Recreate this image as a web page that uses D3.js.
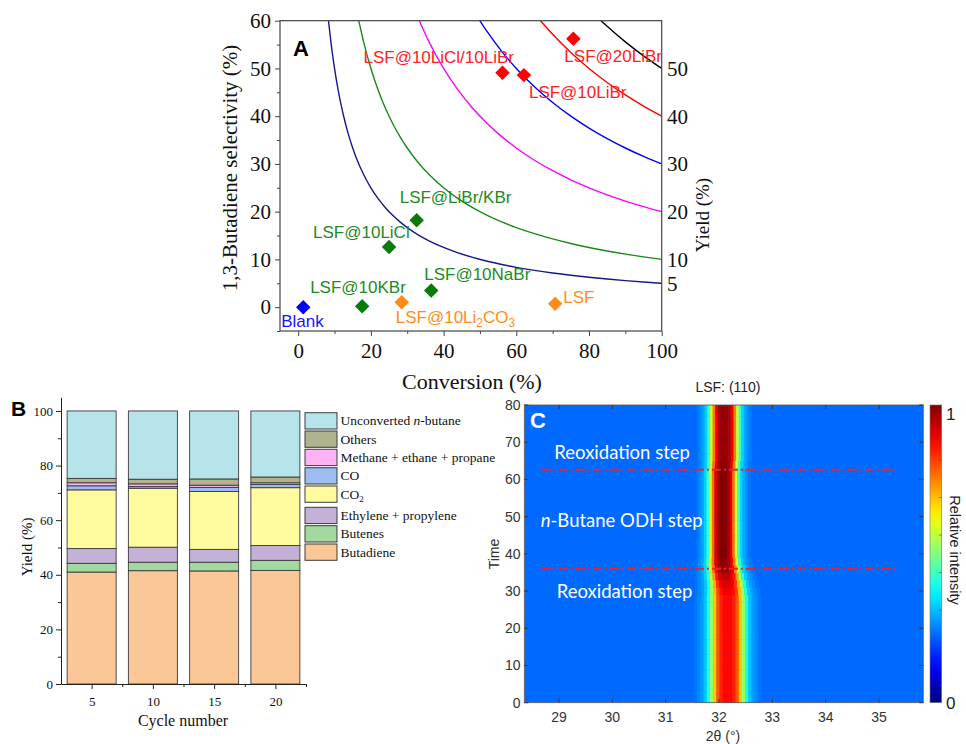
<!DOCTYPE html>
<html><head><meta charset="utf-8">
<script src="https://cdn.jsdelivr.net/npm/d3@7"></script>
<style>body{margin:0;background:#fff} svg{display:block}</style>
</head><body><svg id="fig" width="966" height="744"></svg>
<script>
// ---------------- Panel A data ----------------
const catalystNames = ["Blank","LSF@10KBr","LSF@10Li2CO3","LSF@10NaBr","LSF@10LiCl","LSF@LiBr/KBr","LSF","LSF@10LiCl/10LiBr","LSF@10LiBr","LSF@20LiBr"];
const conversionValues = [1.4, 17.6, 28.5, 36.6, 25.0, 32.6, 70.7, 56.2, 62.1, 75.7];
const selectivityValues = [0.0, 0.2, 1.0, 3.5, 12.6, 18.2, 0.7, 49.1, 48.6, 56.2];
const catalystGroup = ["blank","halide","carbonate","halide","halide","halide","carbonate","lithium","lithium","lithium"];
const isoYieldLevels = [5, 10, 20, 30, 40, 50];
const isoYieldTickLabels = ["5","10","20","30","40","50"];
const conversionSamples = [9,10,11,12,13,14,15,16,18,20,22,24,26,28,30,33,36,40,44,48,52,56,60,65,70,75,80,85,90,95,100];
const selectivityTicks = [0,10,20,30,40,50,60];
const conversionTicks = [0,20,40,60,80,100];

// ---------------- Panel B data ----------------
const cycleNumbers = [5, 10, 15, 20];
const productNames = ["Butadiene","Butenes","Ethylene + propylene","CO2","CO","Methane + ethane + propane","Others","Unconverted n-butane"];
const butadieneYield   = [41.0, 41.5, 41.4, 41.6];
const butenesYield     = [3.2, 3.1, 3.2, 3.7];
const ethyleneYield    = [5.4, 5.5, 4.7, 5.4];
const co2Yield         = [21.5, 21.6, 21.2, 21.2];
const coYield          = [1.5, 0.6, 1.5, 1.2];
const lightAlkaneYield = [1.1, 1.0, 0.8, 0.6];
const othersYield      = [1.6, 1.7, 2.3, 2.1];
const unconvertedYield = [24.7, 25.0, 24.9, 24.2];
const yieldTicks = [0,20,40,60,80,100];

// ---------------- Panel C data ----------------
const thetaTicks = [29,30,31,32,33,34,35];
const timeTicks = [0,10,20,30,40,50,60,70,80];
const rowTime = [0,2,4,6,8,10,12,14,16,18,20,22,24,26,28,30,32,34,36,38,40,42,44,46,48,50,52,54,56,58,60,62,64,66,68,70,72,74,76,78,80];
const rowCenter = [32.16,32.16,32.16,32.16,32.16,32.16,32.16,32.16,32.16,32.16,32.16,32.16,32.16,32.16,32.16,
  32.155,32.14,32.12,32.10,32.085,
  32.08,32.08,32.08,32.08,32.08,32.08,32.08,32.08,32.08,32.08,32.08,32.08,
  32.09,
  32.10,32.10,32.10,32.10,32.10,32.10,32.10,32.10];
const rowHalfWidth = [0.30,0.30,0.30,0.30,0.30,0.30,0.30,0.30,0.30,0.30,0.30,0.30,0.30,0.30,0.30,
  0.29,0.28,0.27,0.26,0.25,
  0.24,0.24,0.24,0.24,0.24,0.24,0.24,0.24,0.24,0.24,0.24,0.24,
  0.24,
  0.245,0.245,0.245,0.245,0.245,0.245,0.245,0.245];
const rowAmplitude = [0.66,0.66,0.66,0.66,0.66,0.66,0.66,0.66,0.66,0.66,0.66,0.66,0.66,0.66,0.66,
  0.68,0.70,0.73,0.76,0.78,
  0.79,0.79,0.79,0.79,0.79,0.79,0.79,0.79,0.79,0.79,0.79,0.79,
  0.78,
  0.77,0.77,0.77,0.77,0.77,0.77,0.77,0.77];
const profileOffsets = [-2.0,-1.8,-1.6,-1.4,-1.2,-1.0,-0.8,-0.6,-0.4,-0.2,0,0.2,0.4,0.6,0.8,1.0,1.2,1.4,1.6,1.8,2.0];
const profileShape   = [0.02,0.05,0.08,0.14,0.27,0.46,0.70,0.88,0.96,1.0,1.0,1.0,0.96,0.88,0.70,0.46,0.27,0.14,0.08,0.05,0.02];
const backgroundLevel = 0.235;
const stepBoundaryTimes = [36, 62.6];
const colorbarMinorTicks = [0.06,0.19,0.32,0.45,0.58,0.71,0.84,0.97];

const svg = d3.select("#fig");
const serif = "'Liberation Serif','Times New Roman',serif";
const sans = "'Liberation Sans',Arial,sans-serif";

// =============== PANEL A ===============
(function(){
  const g = svg.append("g");
  const x = d3.scaleLinear().domain([-5,100]).range([280,661.7]);
  const y = d3.scaleLinear().domain([-5,60]).range([331,20.7]);
  const clipId = "clipA";
  svg.append("defs").append("clipPath").attr("id",clipId).append("rect")
    .attr("x",280).attr("y",20.7).attr("width",381.7).attr("height",310.3);
  const curveColors = ["#17178a","#1a8a1a","#ff00ff","#0000ff","#ff0000","#000000"];
  const line = d3.line().x(d=>x(d[0])).y(d=>y(d[1])).curve(d3.curveMonotoneX);
  isoYieldLevels.forEach((Y,i)=>{
    const c0 = Y*100/60;
    const pts = [[c0, 60]].concat(conversionSamples.filter(c=>c>c0).map(c=>[c, Y*100/c]));
    g.append("path").attr("d",line(pts)).attr("fill","none")
      .attr("stroke",curveColors[i]).attr("stroke-width",1.4).attr("clip-path",`url(#${clipId})`);
  });
  g.append("rect").attr("x",280).attr("y",20.7).attr("width",381.7).attr("height",310.3)
    .attr("fill","none").attr("stroke","#444").attr("stroke-width",1.2);
  const ax = g.append("g").attr("transform","translate(280,0)")
    .call(d3.axisLeft(y).tickValues(selectivityTicks).tickSize(5).tickPadding(4).tickSizeOuter(0));
  ax.select(".domain").remove();
  ax.selectAll("line").attr("stroke","#444");
  ax.selectAll("text").attr("font-family",serif).attr("font-size",21).attr("fill","#111");
  const axm = g.append("g").attr("transform","translate(280,0)")
    .call(d3.axisLeft(y).tickValues([-5,5,15,25,35,45,55]).tickSize(3).tickFormat(""));
  axm.select(".domain").remove(); axm.selectAll("line").attr("stroke","#444");
  const bx = g.append("g").attr("transform","translate(0,331)")
    .call(d3.axisBottom(x).tickValues(conversionTicks).tickSize(5).tickPadding(7).tickSizeOuter(0));
  bx.select(".domain").remove(); bx.selectAll("line").attr("stroke","#444");
  bx.selectAll("text").attr("font-family",serif).attr("font-size",21).attr("fill","#111");
  const bxm = g.append("g").attr("transform","translate(0,331)")
    .call(d3.axisBottom(x).tickValues([10,30,50,70,90]).tickSize(3).tickFormat(""));
  bxm.select(".domain").remove(); bxm.selectAll("line").attr("stroke","#444");
  g.selectAll("text.ry").data(isoYieldLevels).join("text")
    .attr("x",667).attr("y",d=>y(d)).attr("dy","0.35em")
    .attr("font-family",serif).attr("font-size",21).attr("fill","#111")
    .text((d,i)=>isoYieldTickLabels[i]);
  g.append("text").attr("transform","translate(237,168) rotate(-90)").attr("text-anchor","middle")
    .attr("font-family",serif).attr("font-size",21).attr("fill","#111").text("1,3-Butadiene selectivity (%)");
  g.append("text").attr("x",472).attr("y",389).attr("text-anchor","middle")
    .attr("font-family",serif).attr("font-size",22).attr("fill","#111").text("Conversion (%)");
  g.append("text").attr("transform","translate(709,215) rotate(-90)").attr("text-anchor","middle")
    .attr("font-family",serif).attr("font-size",19).attr("fill","#111").text("Yield (%)");
  g.append("text").attr("x",293).attr("y",56).attr("font-family",sans).attr("font-weight","bold")
    .attr("font-size",22).attr("fill","#000").text("A");
  const markColor = {blank:"#0000ff", halide:"#0a7a0a", carbonate:"#ff8c1a", lithium:"#ff0000"};
  const textColor = {blank:"#1515ff", halide:"#228b22", carbonate:"#ff8c1a", lithium:"#ff2020"};
  const sym = d3.symbol().type(d3.symbolSquare).size(105);
  g.selectAll("path.pt").data(catalystNames).join("path")
    .attr("transform",(d,i)=>`translate(${x(conversionValues[i])},${y(selectivityValues[i])}) rotate(45)`)
    .attr("d",sym).attr("fill",(d,i)=>markColor[catalystGroup[i]]);
  const labelOffset = {
    "Blank":[-22,20], "LSF@10KBr":[-52,-13], "LSF@10Li2CO3":[-6,21], "LSF@10NaBr":[-7,-10],
    "LSF@10LiCl":[-76,-9], "LSF@LiBr/KBr":[-17,-17], "LSF":[8,-1], "LSF@10LiCl/10LiBr":[-139,-10],
    "LSF@10LiBr":[5,23], "LSF@20LiBr":[-9,23]
  };
  catalystNames.forEach((name,i)=>{
    const [dx,dy] = labelOffset[name];
    const t = g.append("text").attr("x",x(conversionValues[i])+dx).attr("y",y(selectivityValues[i])+dy)
      .attr("font-family",sans).attr("font-size",17).attr("fill",textColor[catalystGroup[i]]);
    if(name==="LSF@10Li2CO3"){
      t.append("tspan").text("LSF@10Li");
      t.append("tspan").attr("dy",4).attr("font-size",12).text("2");
      t.append("tspan").attr("dy",-4).text("CO");
      t.append("tspan").attr("dy",4).attr("font-size",12).text("3");
    } else t.text(name);
  });
})();

// =============== PANEL B ===============
(function(){
  const g = svg.append("g");
  const x = d3.scaleLinear().domain([2.5,22.5]).range([61,306]);
  const y = d3.scaleLinear().domain([0,105]).range([684,397.3]);
  const series = [butadieneYield,butenesYield,ethyleneYield,co2Yield,coYield,lightAlkaneYield,othersYield,unconvertedYield];
  const colors = ["#fcc796","#a3d9a0","#c3b1d7","#fffb9e","#9dbcf0","#ffb3f5","#b1b38f","#b6e4ea"];
  const rows = cycleNumbers.map((c,j)=>{const o={cycle:c}; series.forEach((s,k)=>o[k]=s[j]); return o;});
  const stack = d3.stack().keys(series.map((s,k)=>k))(rows);
  const barW = x(4.0)-x(0);
  stack.forEach((layer,k)=>{
    g.selectAll(null).data(layer).join("rect")
      .attr("x",d=>x(d.data.cycle)-barW/2).attr("width",barW)
      .attr("y",d=>y(d[1])).attr("height",d=>y(d[0])-y(d[1]))
      .attr("fill",colors[k]).attr("stroke","#3a3a3a").attr("stroke-width",0.9);
  });
  const ax = g.append("g").attr("transform","translate(61,0)")
    .call(d3.axisLeft(y).tickValues(yieldTicks).tickSize(5).tickPadding(3).tickSizeOuter(0));
  ax.select(".domain").attr("stroke","#222");
  ax.selectAll("line").attr("stroke","#222");
  ax.selectAll("text").attr("font-family",serif).attr("font-size",13).attr("fill","#111");
  const axm = g.append("g").attr("transform","translate(61,0)")
    .call(d3.axisLeft(y).tickValues([10,30,50,70,90]).tickSize(3).tickFormat(""));
  axm.select(".domain").remove(); axm.selectAll("line").attr("stroke","#222");
  const bx = g.append("g").attr("transform","translate(0,684)")
    .call(d3.axisBottom(x).tickValues(cycleNumbers).tickSize(5).tickPadding(8).tickSizeOuter(0));
  bx.select(".domain").attr("stroke","#222");
  bx.selectAll("line").attr("stroke","#222");
  bx.selectAll("text").attr("font-family",serif).attr("font-size",13).attr("fill","#111");
  const bxm = g.append("g").attr("transform","translate(0,684)")
    .call(d3.axisBottom(x).tickValues([7.5,12.5,17.5,22.5]).tickSize(3).tickFormat(""));
  bxm.select(".domain").remove(); bxm.selectAll("line").attr("stroke","#222");
  g.append("text").attr("transform","translate(32,547) rotate(-90)").attr("text-anchor","middle")
    .attr("font-family",serif).attr("font-size",15).attr("fill","#111").text("Yield (%)");
  g.append("text").attr("x",183).attr("y",726).attr("text-anchor","middle")
    .attr("font-family",serif).attr("font-size",16).attr("fill","#111").text("Cycle number");
  g.append("text").attr("x",11).attr("y",416).attr("font-family",sans).attr("font-weight","bold")
    .attr("font-size",21).attr("fill","#000").text("B");
  const legendTops = [412.7,431,449.3,467.7,486,507.3,525.7,544];
  const order = [7,6,5,4,3,2,1,0];
  order.forEach((k,i)=>{
    const ty = legendTops[i];
    g.append("rect").attr("x",305).attr("y",ty).attr("width",32).attr("height",16.3)
      .attr("fill",colors[k]).attr("stroke","#3a3a3a").attr("stroke-width",1);
    const t = g.append("text").attr("x",340.5).attr("y",ty+12.5)
      .attr("font-family",serif).attr("font-size",13.5).attr("fill","#111");
    const name = productNames[k];
    if(k===7){ t.append("tspan").text("Unconverted "); t.append("tspan").attr("font-style","italic").text("n"); t.append("tspan").text("-butane"); }
    else if(k===3){ t.append("tspan").text("CO"); t.append("tspan").attr("dy",3).attr("font-size",9).text("2"); }
    else t.text(name);
  });
})();

// =============== PANEL C ===============
(function(){
  const g = svg.append("g");
  const x = d3.scaleLinear().domain([28.35,35.83]).range([524.3,923.3]);
  const y = d3.scaleLinear().domain([0,80]).range([702.7,405]);
  const cmax = 1.03;
  function jet(v){
    v = Math.max(0,Math.min(1,v));
    const cl = a=>Math.max(0,Math.min(1,a));
    const r = cl(1.5-Math.abs(4*v-3)), gg = cl(1.5-Math.abs(4*v-2)), b = cl(1.5-Math.abs(4*v-1));
    return d3.rgb(r*255,gg*255,b*255).formatHex();
  }
  const cid = "clipC";
  svg.select("defs").append("clipPath").attr("id",cid).append("rect")
    .attr("x",524.3).attr("y",405).attr("width",399).attr("height",297.7);
  const hm = g.append("g").attr("clip-path",`url(#${cid})`);
  hm.append("rect").attr("x",x(28.35)).attr("y",y(80)).attr("width",x(35.83)-x(28.35)).attr("height",y(0)-y(80))
    .attr("fill",jet(backgroundLevel/cmax));
  const cells = [];
  rowTime.forEach((t,r)=>{
    profileOffsets.forEach((u,k)=>{
      cells.push({t0:t-1, t1:t+1,
        th0: rowCenter[r]+(u-0.1)*rowHalfWidth[r],
        th1: rowCenter[r]+(u+0.1)*rowHalfWidth[r],
        v: backgroundLevel + rowAmplitude[r]*profileShape[k]});
    });
  });
  hm.selectAll("rect.cell").data(cells).join("rect").attr("class","cell")
    .attr("x",d=>x(d.th0)).attr("width",d=>x(d.th1)-x(d.th0)+0.4)
    .attr("y",d=>y(d.t1)).attr("height",d=>y(d.t0)-y(d.t1)+0.4)
    .attr("fill",d=>jet(d.v/cmax));
  g.selectAll("line.step").data(stepBoundaryTimes).join("line")
    .attr("x1",x(28.68)).attr("x2",x(35.32)).attr("y1",d=>y(d)).attr("y2",d=>y(d))
    .attr("stroke","#e8262a").attr("stroke-width",2).attr("stroke-dasharray","9,3,2,3");
  g.append("rect").attr("x",524.3).attr("y",405).attr("width",399).attr("height",297.7)
    .attr("fill","none").attr("stroke","#555").attr("stroke-width",0.8);
  const tickCol = "#333";
  thetaTicks.forEach(v=>{
    g.append("line").attr("x1",x(v)).attr("x2",x(v)).attr("y1",702.7).attr("y2",698.7).attr("stroke",tickCol);
    g.append("line").attr("x1",x(v)).attr("x2",x(v)).attr("y1",405).attr("y2",409).attr("stroke",tickCol);
  });
  timeTicks.forEach(v=>{
    g.append("line").attr("x1",524.3).attr("x2",528.3).attr("y1",y(v)).attr("y2",y(v)).attr("stroke",tickCol);
    g.append("line").attr("x1",923.3).attr("x2",919.3).attr("y1",y(v)).attr("y2",y(v)).attr("stroke",tickCol);
  });
  g.selectAll("text.xt").data(thetaTicks).join("text").attr("x",d=>x(d)).attr("y",722)
    .attr("text-anchor","middle").attr("font-family",sans).attr("font-size",14).attr("fill","#333").text(d=>d);
  g.selectAll("text.yt").data(timeTicks).join("text").attr("x",520.5).attr("y",d=>y(d)).attr("dy","0.35em")
    .attr("text-anchor","end").attr("font-family",sans).attr("font-size",14).attr("fill","#333").text(d=>d);
  g.append("text").attr("transform","translate(499,554) rotate(-90)").attr("text-anchor","middle")
    .attr("font-family",sans).attr("font-size",14).attr("fill","#333").text("Time");
  g.append("text").attr("x",723).attr("y",741).attr("text-anchor","middle")
    .attr("font-family",sans).attr("font-size",14).attr("fill","#333").text("2θ (°)");
  g.append("text").attr("x",728).attr("y",392).attr("text-anchor","middle")
    .attr("font-family",sans).attr("font-size",14).attr("fill","#222").text("LSF: (110)");
  g.append("text").attr("x",530).attr("y",428).attr("font-family",sans).attr("font-weight","bold")
    .attr("font-size",22).attr("fill","#fff").text("C");
  const lato = "Lato,'Open Sans',sans-serif";
  g.append("text").attr("x",554.3).attr("y",458.5).attr("font-family",lato).attr("font-size",18.5).attr("fill","#fff").text("Reoxidation step");
  const t2 = g.append("text").attr("x",540.7).attr("y",527).attr("font-family",lato).attr("font-size",18.5).attr("fill","#fff");
  t2.append("tspan").attr("font-style","italic").text("n");
  t2.append("tspan").text("-Butane ODH step");
  g.append("text").attr("x",556.7).attr("y",597.5).attr("font-family",lato).attr("font-size",18.5).attr("fill","#fff").text("Reoxidation step");
  const cy = d3.scaleLinear().domain([0,cmax]).range([702.7,405]);
  const grad = svg.select("defs").append("linearGradient").attr("id","jetGrad")
    .attr("x1","0").attr("x2","0").attr("y1","1").attr("y2","0");
  d3.range(0,1.0001,0.05).forEach(s=>grad.append("stop").attr("offset",s).attr("stop-color",jet(s)));
  g.append("rect").attr("x",930).attr("y",405).attr("width",11.7).attr("height",297.7)
    .attr("fill","url(#jetGrad)").attr("stroke","#777").attr("stroke-width",0.6);
  colorbarMinorTicks.forEach(v=>{
    g.append("line").attr("x1",941.7).attr("x2",939).attr("y1",cy(v)).attr("y2",cy(v)).attr("stroke","#444").attr("stroke-width",0.6);
  });
  g.selectAll("text.cb").data([0,1]).join("text").attr("x",946).attr("y",d=>cy(d)).attr("dy","0.36em")
    .attr("font-family",sans).attr("font-size",17).attr("fill","#222").text(d=>d);
  g.append("text").attr("transform","translate(950,550) rotate(90)").attr("text-anchor","middle")
    .attr("font-family",sans).attr("font-size",14.5).attr("fill","#222").text("Relative intensity");
})();
</script>
</body></html>
